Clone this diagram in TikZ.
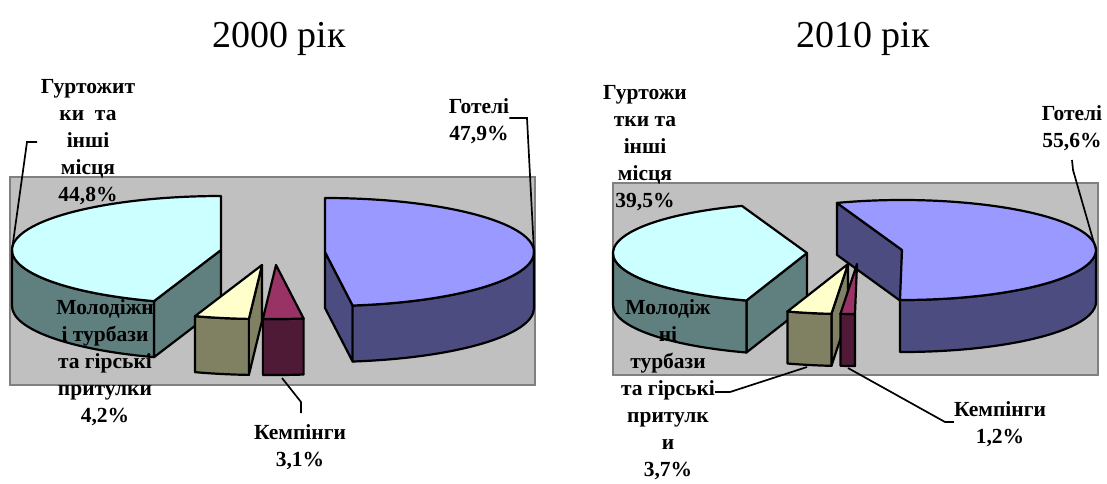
\documentclass[tikz,border=0pt]{standalone}
\usepackage{fontspec}
\setmainfont{Liberation Serif}
\usetikzlibrary{calc}

\definecolor{cyantop}{HTML}{CCFFFF}
\definecolor{cyanside}{HTML}{608080}
\definecolor{bluetop}{HTML}{9999FF}
\definecolor{blueside}{HTML}{4C4C80}
\definecolor{yellowtop}{HTML}{FFFFCC}
\definecolor{yellowside}{HTML}{808062}
\definecolor{purpletop}{HTML}{993366}
\definecolor{purpleside}{HTML}{4E1A35}
\definecolor{plotgray}{HTML}{C0C0C0}
\definecolor{plotedge}{HTML}{808080}

\tikzset{
  face/.style={draw=black, line width=2.2pt, line join=round},
  plotarea/.style={fill=plotgray, draw=plotedge, line width=2.5pt},
  leader/.style={draw=black, line width=1.7pt},
  lbl/.style={align=center, inner sep=0pt, font=\fontsize{21.5}{27}\selectfont\bfseries},
  ttl/.style={inner sep=0pt, font=\fontsize{38}{40}\selectfont},
  r00/.style={x radius=209, y radius=54},
  r10/.style={x radius=194, y radius=50}
}

\begin{document}
\begin{tikzpicture}[x=1pt,y=1pt,yscale=-1,xscale=1]
\path[use as bounding box] (0,0) rectangle (1107,483);

% Text Node
\node[ttl, anchor=base] (ttl00) at (279,47) {2000 рік};
% Text Node
\node[ttl, anchor=base] (ttl10) at (863,47) {2010 рік};

%Shape: Rectangle (plot area 2000)
\draw[plotarea] (10,177) rectangle (535,385);
%Shape: Rectangle (plot area 2010)
\draw[plotarea] (613,183) rectangle (1098,375);

%%%%%%%% 2000
\coordinate (cDorm00) at (221,250);
\coordinate (aDorm00) at ($(cDorm00)+(108.7:209 and 54)$);
\coordinate (pDorm00) at ($(cDorm00)+(180:209 and 54)$);
\coordinate (cHotel00) at (325,252);
\coordinate (aHotel00) at ($(cHotel00)+(82.4:209 and 54)$);
\coordinate (pHotel00) at ($(cHotel00)+(0:209 and 54)$);
\coordinate (cYouth00) at (262,265);
\coordinate (aYouth00) at ($(cYouth00)+(108.7:209 and 54)$);
\coordinate (bYouth00) at ($(cYouth00)+(93.6:209 and 54)$);
\coordinate (cCamp00) at (276,265);
\coordinate (aCamp00) at ($(cCamp00)+(93.6:209 and 54)$);
\coordinate (bCamp00) at ($(cCamp00)+(82.4:209 and 54)$);

%Shape: Polygon (dorm cut face)
\draw[face, fill=cyanside] (cDorm00) -- (aDorm00) -- ++(0,56) -- ($(cDorm00)+(0,56)$) -- cycle;
%Shape: Arc (dorm side)
\draw[face, fill=cyanside] (aDorm00) arc[start angle=108.7, end angle=180, r00] -- ++(0,56) arc[start angle=180, end angle=108.7, r00] -- cycle;
%Shape: Arc (dorm top)
\draw[face, fill=cyantop] (cDorm00) -- (aDorm00) arc[start angle=108.7, end angle=270, r00] -- cycle;

%Shape: Polygon (hotel cut face)
\draw[face, fill=blueside] (cHotel00) -- (aHotel00) -- ++(0,56) -- ($(cHotel00)+(0,56)$) -- cycle;
%Shape: Arc (hotel side)
\draw[face, fill=blueside] (pHotel00) arc[start angle=0, end angle=82.4, r00] -- ++(0,56) arc[start angle=82.4, end angle=0, r00] -- cycle;
%Shape: Arc (hotel top)
\draw[face, fill=bluetop] (cHotel00) -- (aHotel00) arc[start angle=82.4, end angle=-90, r00] -- cycle;

%Shape: Polygon (youth cut face)
\draw[face, fill=yellowside] (cYouth00) -- (bYouth00) -- ++(0,56) -- ($(cYouth00)+(0,56)$) -- cycle;
%Shape: Arc (youth side)
\draw[face, fill=yellowside] (aYouth00) arc[start angle=108.7, end angle=93.6, r00] -- ++(0,56) arc[start angle=93.6, end angle=108.7, r00] -- cycle;
%Shape: Arc (youth top)
\draw[face, fill=yellowtop] (cYouth00) -- (aYouth00) arc[start angle=108.7, end angle=93.6, r00] -- cycle;

%Shape: Arc (camp side)
\draw[face, fill=purpleside] (aCamp00) arc[start angle=93.6, end angle=82.4, r00] -- ++(0,56) arc[start angle=82.4, end angle=93.6, r00] -- cycle;
%Shape: Arc (camp top)
\draw[face, fill=purpletop] (cCamp00) -- (aCamp00) arc[start angle=93.6, end angle=82.4, r00] -- cycle;

% Text Node
\node[lbl, anchor=north] (lblDorm00) at (88,79) {Гуртожит\\ки~ та\\інші\\місця\\44,8\%};
% Text Node
\node[lbl, anchor=north] (lblHotel00) at (479,98) {Готелі\\47,9\%};
% Text Node
\node[lbl, anchor=north] (lblYouth00) at (105,299) {Молодіжн\\і турбази\\та гірські\\притулки\\4,2\%};
% Text Node
\node[lbl, anchor=north] (lblCamp00) at (300,424) {Кемпінги\\3,1\%};

\coordinate (kDorm00) at (27,142);
\coordinate (eDorm00) at (37,142);
\draw[leader] (pDorm00) -- (kDorm00) -- (eDorm00);
\coordinate (kHotel00) at (527,118);
\draw[leader] (pHotel00) -- (kHotel00) -- (lblHotel00.east |- kHotel00);
\coordinate (sCamp00) at (282,378);
\coordinate (kCamp00) at (301,402);
\draw[leader] (sCamp00) -- (kCamp00) -- ($(lblCamp00.north)+(1,-11)$);

%%%%%%%% 2010
\coordinate (cDorm10) at (807,253);
\coordinate (aDorm10) at ($(cDorm10)+(108.2:194 and 50)$);
\coordinate (cHotel10) at (902,250);
\coordinate (aHotel10) at ($(cHotel10)+(-109.6:194 and 50)$);
\coordinate (pHotel10) at ($(cHotel10)+(0:194 and 50)$);
\coordinate (cYouth10) at (848,264);
\coordinate (aYouth10) at ($(cYouth10)+(108.2:194 and 50)$);
\coordinate (bYouth10) at ($(cYouth10)+(94.9:194 and 50)$);
\coordinate (cCamp10) at (857,264);
\coordinate (aCamp10) at ($(cCamp10)+(94.9:194 and 50)$);

%Shape: Polygon (dorm cut face)
\draw[face, fill=cyanside] (cDorm10) -- (aDorm10) -- ++(0,52) -- ($(cDorm10)+(0,52)$) -- cycle;
%Shape: Arc (dorm side)
\draw[face, fill=cyanside] (aDorm10) arc[start angle=108.2, end angle=180, r10] -- ++(0,52) arc[start angle=180, end angle=108.2, r10] -- cycle;
%Shape: Arc (dorm top)
\draw[face, fill=cyantop] (cDorm10) -- (aDorm10) arc[start angle=108.2, end angle=250.4, r10] -- cycle;

%Shape: Polygon (hotel cut face)
\draw[face, fill=blueside] (cHotel10) -- (aHotel10) -- ++(0,52) -- ($(cHotel10)+(0,52)$) -- cycle;
%Shape: Arc (hotel side)
\draw[face, fill=blueside] (pHotel10) arc[start angle=0, end angle=90.6, r10] -- ++(0,52) arc[start angle=90.6, end angle=0, r10] -- cycle;
%Shape: Arc (hotel top)
\draw[face, fill=bluetop] (cHotel10) -- (aHotel10) arc[start angle=-109.6, end angle=90.6, r10] -- cycle;

%Shape: Polygon (youth cut face)
\draw[face, fill=yellowside] (cYouth10) -- (bYouth10) -- ++(0,52) -- ($(cYouth10)+(0,52)$) -- cycle;
%Shape: Arc (youth side)
\draw[face, fill=yellowside] (aYouth10) arc[start angle=108.2, end angle=94.9, r10] -- ++(0,52) arc[start angle=94.9, end angle=108.2, r10] -- cycle;
%Shape: Arc (youth top)
\draw[face, fill=yellowtop] (cYouth10) -- (aYouth10) arc[start angle=108.2, end angle=94.9, r10] -- cycle;

%Shape: Arc (camp side)
\draw[face, fill=purpleside] (aCamp10) arc[start angle=94.9, end angle=90.6, r10] -- ++(0,52) arc[start angle=90.6, end angle=94.9, r10] -- cycle;
%Shape: Arc (camp top)
\draw[face, fill=purpletop] (cCamp10) -- (aCamp10) arc[start angle=94.9, end angle=90.6, r10] -- cycle;

% Text Node
\node[lbl, anchor=north] (lblDorm10) at (645,85) {Гуртожи\\тки та\\інші\\місця\\39,5\%};
% Text Node
\node[lbl, anchor=north] (lblHotel10) at (1072,105) {Готелі\\55,6\%};
% Text Node
\node[lbl, anchor=north] (lblYouth10) at (668,299) {Молодіж\\ні\\турбази\\та гірські\\притулк\\и\\3,7\%};
% Text Node
\node[lbl, anchor=north] (lblCamp10) at (1000,401) {Кемпінги\\1,2\%};

\coordinate (sHotel10) at (1072,160);
\coordinate (kHotel10) at (1073,170);
\draw[leader] (sHotel10) -- (kHotel10) -- (pHotel10);
\coordinate (kYouth10) at (730,392);
\coordinate (sYouth10) at (807,367);
\draw[leader] (lblYouth10.east |- kYouth10) -- (kYouth10) -- (sYouth10);
\coordinate (sCamp10) at (848,368);
\coordinate (kCamp10) at (945,422);
\draw[leader] (sCamp10) -- (kCamp10) -- (lblCamp10.west |- kCamp10);
\end{tikzpicture}
\end{document}
